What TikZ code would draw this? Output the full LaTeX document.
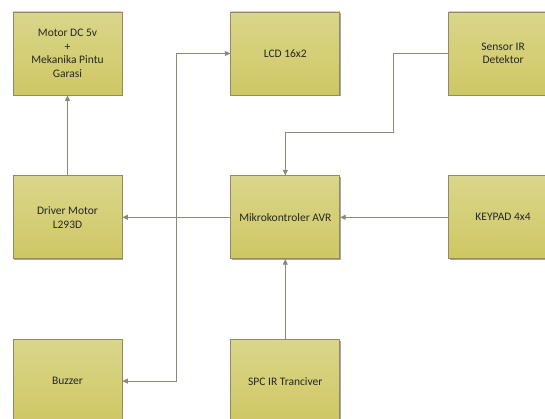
\documentclass[tikz,border=0pt]{standalone}
\usepackage{fontspec}
\setmainfont{Carlito}
\usetikzlibrary{positioning,arrows.meta,shadows}
\definecolor{cBoxTop}{HTML}{DAD68A}
\definecolor{cBoxBot}{HTML}{CFC764}
\definecolor{cBoxLine}{HTML}{8E8C66}
\definecolor{cWire}{HTML}{8A8A76}

\begin{document}
\begin{tikzpicture}[x=1pt,y=-1pt,
    blok/.style={draw=cBoxLine,top color=cBoxTop,bottom color=cBoxBot,
                 line width=0.8pt,minimum width=109pt,minimum height=83pt,
                 inner sep=2pt,align=center,font=\fontsize{11.5}{13.6}\selectfont,
                 text=black!85,
                 drop shadow={shadow xshift=1.2pt,shadow yshift=-1.2pt,opacity=0.35,fill=black}},
    wire/.style={draw=cWire,line width=0.9pt,-{Triangle[length=5.5pt,width=5pt]}},
    node distance=80pt and 108pt]
  \useasboundingbox (0,0) rectangle (545,419);
  % top row
  \node[blok] (motor) at (67.5,53.5) {Motor DC 5v\\+\\Mekanika Pintu\\Garasi};
  \node[blok,right=of motor] (lcd) {LCD 16x2};
  \node[blok,right=of lcd] (sensor) {Sensor IR\\Detektor};
  % middle row
  \node[blok,below=of motor] (driver) {Driver Motor\\L293D};
  \node[blok,right=of driver] (avr) {Mikrokontroler AVR};
  \node[blok,right=of avr] (keypad) {KEYPAD 4x4};
  % bottom row
  \node[blok,below=of driver] (buzzer) {Buzzer};
  \node[blok,right=of buzzer] (spc) {SPC IR Tranciver};

  \coordinate (jalur) at (176,216.5);
  \coordinate (belok) at (393,132.5);

  \draw[wire] (driver) -- (motor);
  \draw[wire] (avr) -- (driver);
  \draw[wire] (keypad) -- (avr);
  \draw[wire] (spc) -- (avr);
  \draw[wire] (sensor.west) -| (belok) -| (avr.north);
  \draw[wire] (jalur) |- (lcd.west);
  \draw[wire] (jalur) |- (buzzer.east);
\end{tikzpicture}
\end{document}
